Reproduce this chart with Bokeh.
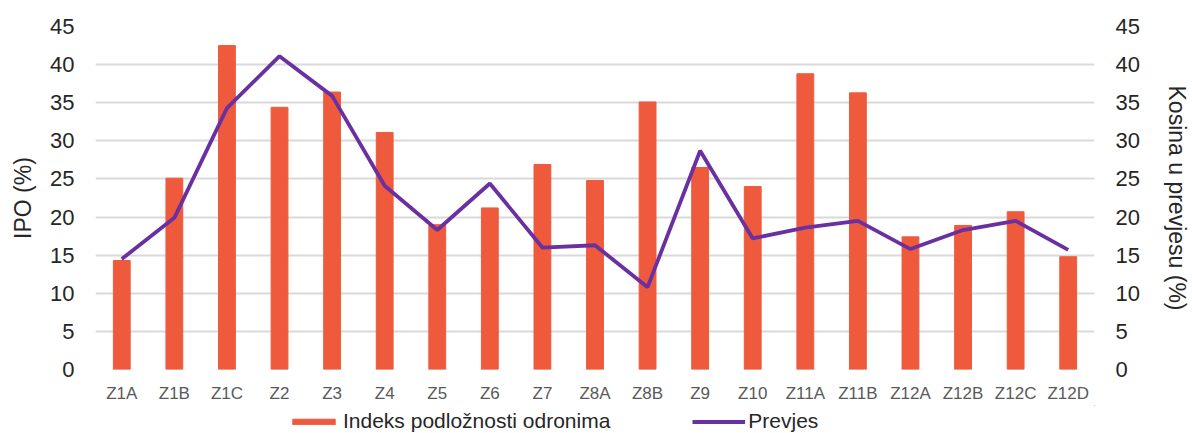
from bokeh.plotting import figure
from bokeh.layouts import column
from bokeh.models import ColumnDataSource, Range1d, LinearAxis, Legend, LegendItem, FixedTicker
from bokeh.embed import file_html
from bokeh.resources import INLINE

categories = ["Z1A", "Z1B", "Z1C", "Z2", "Z3", "Z4", "Z5", "Z6", "Z7", "Z8A", "Z8B",
              "Z9", "Z10", "Z11A", "Z11B", "Z12A", "Z12B", "Z12C", "Z12D"]
ipo = [14.3, 25.1, 42.5, 34.4, 36.4, 31.1, 19.0, 21.2, 26.9, 24.8, 35.1,
       26.5, 24.0, 38.8, 36.3, 17.4, 18.9, 20.7, 14.8]
prevjes = [14.5, 19.9, 34.3, 41.1, 35.9, 24.1, 18.3, 24.4, 16.0, 16.3, 10.8,
           28.7, 17.2, 18.6, 19.5, 15.8, 18.3, 19.5, 15.7]
y_ticks = [0, 5, 10, 15, 20, 25, 30, 35, 40, 45]
series_names = ["Indeks podložnosti odronima", "Prevjes"]

src = ColumnDataSource(dict(cat=categories, ipo=ipo, prevjes=prevjes))

FONT = "Liberation Sans"
BAR = "#EF5A3D"
LINE = "#6B30A0"
W = 1192

p = figure(x_range=categories, y_range=Range1d(0, 45), width=W, height=405,
           output_backend="svg", toolbar_location=None,
           min_border_left=95, min_border_right=95, min_border_top=26, min_border_bottom=33)
p.outline_line_color = None
p.extra_y_ranges = {"right": Range1d(0, 45)}

p.vbar(x="cat", top="ipo", width=0.32, source=src, color=BAR)
p.line(x="cat", y="prevjes", source=src, line_color=LINE, line_width=3.8,
       y_range_name="right")

p.yaxis.ticker = FixedTicker(ticks=y_ticks)
p.yaxis.axis_label = "IPO (%)"
right = LinearAxis(y_range_name="right", ticker=FixedTicker(ticks=y_ticks),
                   axis_label="Kosina u prevjesu (%)")
p.add_layout(right, "right")

for ax in [p.yaxis[0], right]:
    ax.axis_line_color = None
    ax.major_tick_line_color = None
    ax.minor_tick_line_color = None
    ax.major_tick_out = 0
    ax.major_tick_in = 0
    ax.minor_tick_out = 0
    ax.major_label_text_font = FONT
    ax.major_label_text_font_size = "22px"
    ax.major_label_text_color = "#262626"
    ax.axis_label_text_font = FONT
    ax.axis_label_text_font_size = "23px"
    ax.axis_label_text_font_style = "normal"
    ax.axis_label_text_color = "#262626"
    ax.major_label_standoff = 21

p.yaxis[0].axis_label_standoff = 11
right.axis_label_standoff = 21

p.xaxis.axis_line_color = None
p.xaxis.major_tick_line_color = None
p.xaxis.minor_tick_line_color = None
p.xaxis.major_tick_out = 0
p.xaxis.major_tick_in = 0
p.xaxis.major_label_text_font = FONT
p.xaxis.major_label_text_font_size = "17px"
p.xaxis.major_label_text_color = "#595959"
p.xaxis.major_label_standoff = 14

p.xgrid.grid_line_color = None
p.ygrid.ticker = FixedTicker(ticks=y_ticks)
p.ygrid.grid_line_color = "#D9D9D9"
p.ygrid.grid_line_width = 1.8

# legend strip below the chart (its frame is aligned with the chart's frame)
lg = figure(width=W, height=28, x_range=Range1d(0, 1), y_range=Range1d(0, 1),
            output_backend="svg", toolbar_location=None,
            x_axis_type=None, y_axis_type=None, min_border=0)
lg.outline_line_color = None
# proxy renderers placed outside the visible range; they only feed the legend
proxy = ColumnDataSource(dict(x=[5.0, 6.0], y=[5.0, 5.0], top=[5.0, 5.0]))
r_bar = lg.vbar(x="x", top="top", bottom="y", width=0.1, source=proxy, color=BAR)
r_line = lg.line(x="x", y="y", source=proxy, line_color=LINE, line_width=3.8)

legend = Legend(items=[LegendItem(label=series_names[0], renderers=[r_bar]),
                       LegendItem(label=series_names[1], renderers=[r_line])],
                orientation="horizontal", location=(192, 0),
                label_text_font=FONT, label_text_font_size="21px",
                label_text_color="#262626", glyph_width=53, glyph_height=7,
                spacing=82, padding=0, margin=0, border_line_color=None,
                label_standoff=3, background_fill_alpha=0)
lg.add_layout(legend, "center")

open("out.html", "w").write(file_html(column(p, lg), INLINE))
